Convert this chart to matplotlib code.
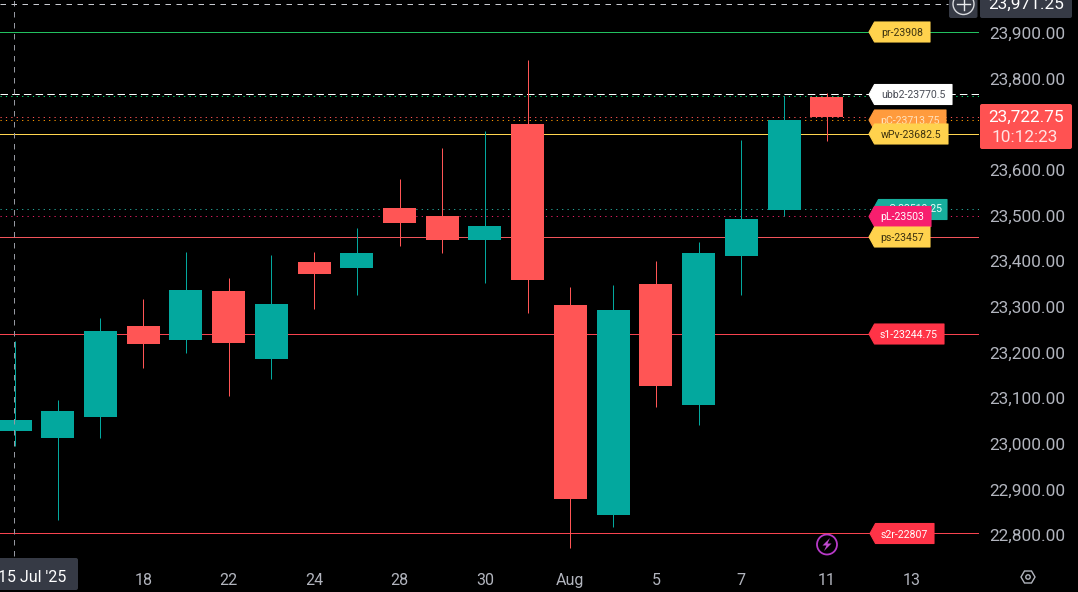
import matplotlib
matplotlib.use("Agg")
import matplotlib.pyplot as plt
from matplotlib.patches import Polygon, Circle, FancyBboxPatch

plt.rcParams['font.family'] = ['Roboto', 'DejaVu Sans']

# ---------- data ----------
opens  = [23028, 23013, 23059, 23258, 23227, 23335, 23186, 23398, 23385, 23517,
          23499, 23446, 23701, 23304, 22844, 23350, 23085, 23411, 23512, 23760]
closes = [23052, 23072, 23247, 23219, 23337, 23221, 23306, 23372, 23418, 23484,
          23446, 23477, 23359, 22879, 23293, 23127, 23418, 23492, 23709, 23716]
highs  = [23225, 23096, 23276, 23317, 23420, 23363, 23414, 23420, 23473, 23580,
          23648, 23685, 23841, 23343, 23348, 23400, 23442, 23666, 23762, 23769]
lows   = [22994, 22833, 23013, 23166, 23199, 23105, 23142, 23295, 23326, 23433,
          23418, 23352, 23287, 22772, 22818, 23081, 23041, 23326, 23499, 23663]

y_ticks = [23900, 23800, 23600, 23500, 23400, 23300, 23200, 23100, 23000, 22900, 22800]
x_tick_idx = [3, 5, 7, 9, 11, 13, 15, 17, 19, 21]
x_tick_labels = ['18', '22', '24', '28', '30', 'Aug', '5', '7', '11', '13']

solid_values = [23902, 23678, 23452, 23240, 22804]
solid_colors = ['#22c05f', '#ffd54f', '#f2545b', '#f7434f', '#f7434f']
dotted_values = [23761, 23717, 23709, 23514, 23498]
dotted_colors = ['#00e676', '#ff5252', '#ff9800', '#26a69a', '#e91e63']
ubb_value = 23766
crosshair_value = 23963
crosshair_idx = -0.02

tag_texts = ['pr-23908', 'ubb2-23770.5', 'pC-23713.75', 'wPv-23682.5', 'Q-23519.25',
             'pL-23503', 'ps-23457', 's1-23244.75', 's2r-22807']

# ---------- layout ----------
W, H = 1078, 592
PLOT_R, PLOT_B = 979, 559
PX_PER_BAR, X0 = 42.72, 15.05
PX_PER_PT, Y0 = 0.4564, 33.0
GREEN, RED = '#03a89e', '#ff5555'
AXTXT = '#b2b5be'
BOX = '#363a45'

fig = plt.figure(figsize=(W / 100, H / 100), dpi=100, facecolor='black')
ax = fig.add_axes([0, 1 - PLOT_B / H, PLOT_R / W, PLOT_B / H], facecolor='black')
ax.set_xlim(-X0 / PX_PER_BAR, (PLOT_R - X0) / PX_PER_BAR)
ax.set_ylim(23900 - (PLOT_B - Y0) / PX_PER_PT, 23900 + Y0 / PX_PER_PT)
for s in ax.spines.values():
    s.set_visible(False)

LW = 0.72
for v, c in zip(solid_values, solid_colors):
    ax.axhline(v, color=c, lw=LW, zorder=1)
for v, c in zip(dotted_values, dotted_colors):
    ax.axhline(v, color=c, lw=LW, ls=(0, (1.2, 4.2)), zorder=1)
ax.axhline(ubb_value, color='white', lw=LW, ls=(0, (7.5, 4.2)), zorder=1)

for i, (o, c, h, l) in enumerate(zip(opens, closes, highs, lows)):
    col = GREEN if c >= o else RED
    ax.plot([i, i], [l, h], color=col, lw=LW, zorder=2, solid_capstyle='butt')
    ax.bar(i, abs(c - o), bottom=min(o, c), width=33 / PX_PER_BAR, color=col, zorder=3, linewidth=0)

ax.axvline(crosshair_idx, color='#9598a1', lw=LW, ls=(0, (5.5, 5.5)), ymin=0.005, zorder=5)
x_left = ax.get_xlim()[0]
ax.plot([x_left, (948 - X0) / PX_PER_BAR], [crosshair_value] * 2, color='#c8cad0',
        lw=LW, ls=(0, (5.5, 5.5)), zorder=5)
ax.set_xlim(-X0 / PX_PER_BAR, (PLOT_R - X0) / PX_PER_BAR)

ax.yaxis.tick_right()
ax.set_yticks(y_ticks)
ax.set_yticklabels([f'{v:,.2f}' for v in y_ticks], fontsize=12.4, color=AXTXT)
ax.set_xticks(x_tick_idx)
ax.set_xticklabels(x_tick_labels, fontsize=11.5, color=AXTXT)
ax.tick_params(axis='both', length=0)
ax.tick_params(axis='y', pad=7.5)
ax.tick_params(axis='x', pad=10)

# ---------- overlay in pixel coordinates ----------
ov = fig.add_axes([0, 0, 1, 1], facecolor='none')
ov.set_xlim(0, W)
ov.set_ylim(H, 0)
ov.axis('off')


def tag(x1, cy, text, fc, tc, z, x0=869, tx=0, ty=0, h=20):
    pts = [(x0, cy), (x0 + 5.5, cy - h / 2), (x1, cy - h / 2), (x1, cy + h / 2), (x0 + 5.5, cy + h / 2)]
    ov.add_patch(Polygon(pts, closed=True, fc=fc, ec=fc, lw=0.8, joinstyle='round', zorder=z))
    ov.text((x0 + 5 + x1) / 2 + tx, cy + ty, text, color=tc, fontsize=7.6, ha='center',
            va='center_baseline', zorder=z + 0.5)


tag_layout = [(930, 32, '#ffd24d', '#3d3210', 869, 0, 0), (952, 94.5, '#ffffff', '#4a4d57', 869, 0, 0),
              (946, 120, '#ff9b3d', '#ffe3bd', 869, 0, 0), (948, 134, '#ffd24d', '#3d3210', 869, 0, 0),
              (947, 209.5, '#17ae9c', '#e8fffb', 873, 3, -1.5), (931, 216.5, '#f71e6e', '#ffffff', 869, 0, 0),
              (930, 237, '#ffd24d', '#3d3210', 869, 0, 0), (944, 334, '#ff3347', '#ffffff', 869, 0, 0),
              (934, 533.5, '#ff3347', '#ffffff', 870, 0, 0)]
for n, (text, (x1, cy, fc, tc, x0, tx, ty)) in enumerate(zip(tag_texts, tag_layout)):
    tag(x1, cy, text, fc, tc, 10 + n, x0=x0, tx=tx, ty=ty)

# top crosshair boxes
ov.add_patch(FancyBboxPatch((949, -6), 28.5, 24, boxstyle='round,pad=0,rounding_size=2', fc=BOX, ec='none'))
ov.add_patch(FancyBboxPatch((980, -6), 92, 24, boxstyle='round,pad=0,rounding_size=2', fc=BOX, ec='none'))
ov.add_patch(Circle((963.5, 4), 10.5, fc='none', ec='#d8dade', lw=1))
ov.plot([957, 970], [4, 4], color='#e8e9ec', lw=1)
ov.plot([963.5, 963.5], [-2, 10], color='#e8e9ec', lw=1)
ov.set_xlim(0, W)
ov.set_ylim(H, 0)
ov.text(1026, 3, '23,971.25', color='white', fontsize=12.4, ha='center', va='center_baseline')

# last price tag
ov.add_patch(FancyBboxPatch((980, 104), 92, 45, boxstyle='round,pad=0,rounding_size=2', fc='#ff5252', ec='none'))
ov.text(1026, 115.5, '23,722.75', color='white', fontsize=12.4, ha='center', va='center_baseline')
ov.text(1025, 135.5, '10:12:23', color='#ffe3e3', fontsize=12.4, ha='center', va='center_baseline')

# time-axis crosshair label
ov.add_patch(FancyBboxPatch((-5, 558), 83, 32, boxstyle='round,pad=0,rounding_size=2', fc=BOX, ec='none'))
ov.text(32, 576, "15 Jul '25", color='white', fontsize=11.5, ha='center', va='center_baseline')

# lightning icon
ov.add_patch(Circle((827, 544.5), 10, fc='none', ec='#b83ac8', lw=1.3))
ov.add_patch(Polygon([(830, 538), (822.5, 545.5), (826.5, 545.5), (824, 551), (831.5, 543.5), (827.5, 543.5)],
                     closed=True, fc='#c04ad0', ec='none'))

# settings icon
ov.add_patch(Polygon([(1021, 577), (1024.5, 571), (1031.5, 571), (1035, 577), (1031.5, 583), (1024.5, 583)],
                     closed=True, fc='none', ec=AXTXT, lw=1))
ov.add_patch(Circle((1028, 577), 2.2, fc='none', ec=AXTXT, lw=1))

fig.savefig('out.png', dpi=100, facecolor='black')
